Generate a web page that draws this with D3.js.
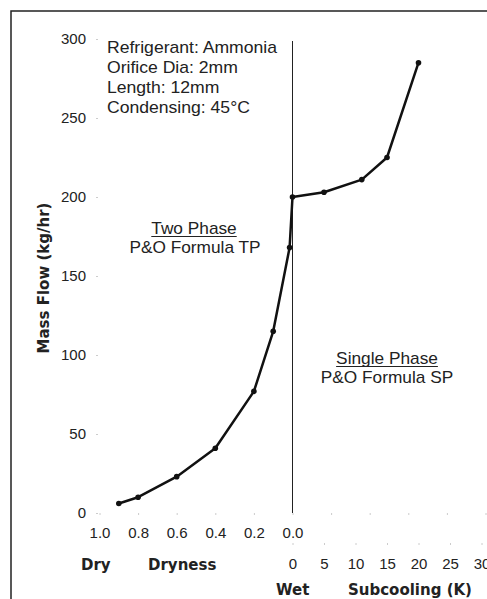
<!DOCTYPE html>
<html>
<head>
<meta charset="utf-8">
<script src="https://cdn.jsdelivr.net/npm/d3@7"></script>
<style>
  body { margin: 0; background: #fff; }
  svg { display: block; }
  .axis text { font-family: "Liberation Sans", Arial, sans-serif; font-size: 15px; fill: #222; }
  .axis line { stroke: #ccc; }
  .axis path { display: none; }
  .note { font-family: "Liberation Sans", Arial, sans-serif; font-size: 16px; fill: #222; }
  .bold { font-family: "DejaVu Sans", Verdana, sans-serif; font-weight: bold; font-size: 15px; fill: #222; }
</style>
</head>
<body>
<script>
//Width and height
var w = 487;
var h = 599;

// Two phase data (dryness vs mass flow, kg/hr)
var dryness = [0.9, 0.8, 0.6, 0.4, 0.2, 0.1, 0.015, 0.0];
var flowTP = [6, 10, 23, 41, 77, 115, 168, 200];

// Single phase data (subcooling K vs mass flow)
var subcooling = [0, 5, 11, 15, 20];
var flowSP = [200, 203, 211, 225, 285];

// Tick labels
var yTicks = [0, 50, 100, 150, 200, 250, 300];
var dryTicks = [1.0, 0.8, 0.6, 0.4, 0.2, 0.0, -0.2, -0.4, -0.6, -0.8, -1.0];
var subTicks = [0, 5, 10, 15, 20, 25, 30];

var notes = ["Refrigerant: Ammonia", "Orifice Dia: 2mm", "Length: 12mm", "Condensing: 45\u00B0C"];

//Create scale functions
var yScale = d3.scaleLinear().domain([0, 300]).range([513, 39]);
var xDry = d3.scaleLinear().domain([1, -1]).range([99.5, 485.5]);
var xSub = d3.scaleLinear().domain([0, 30]).range([292.5, 481.5]);

//Create SVG element
var svg = d3.select("body")
    .append("svg")
    .attr("width", w)
    .attr("height", h);

// frame
svg.append("path")
    .attr("d", "M11," + h + "V11H" + w)
    .attr("fill", "none")
    .attr("stroke", "#222")
    .attr("stroke-width", 1.5);

// axes
svg.append("g").attr("class", "axis")
    .attr("transform", "translate(98,0)")
    .call(d3.axisLeft(yScale).tickValues(yTicks).tickSize(2).tickPadding(10));

svg.append("g").attr("class", "axis")
    .attr("transform", "translate(0,513)")
    .call(d3.axisBottom(xDry).tickValues(dryTicks).tickSize(2).tickPadding(12)
        .tickFormat(function(d) { return d < 0 ? "" : d3.format(".1f")(d); }));

svg.append("g").attr("class", "axis")
    .attr("transform", "translate(0,543)")
    .call(d3.axisBottom(xSub).tickValues(subTicks).tickSize(2).tickPadding(13));

// divider between two phase and single phase
svg.append("line")
    .attr("x1", xDry(0)).attr("x2", xDry(0))
    .attr("y1", 41).attr("y2", yScale(0))
    .attr("stroke", "#222")
    .attr("stroke-width", 1);

// data line
var pts = [];
dryness.forEach(function(d, i) { pts.push([xDry(d), yScale(flowTP[i])]); });
subcooling.forEach(function(d, i) { if (i > 0) pts.push([xSub(d), yScale(flowSP[i])]); });

svg.append("path")
    .datum(pts)
    .attr("fill", "none")
    .attr("stroke", "#111")
    .attr("stroke-width", 2.5)
    .attr("stroke-linejoin", "round")
    .attr("d", d3.line());

svg.selectAll("circle.pt")
    .data(pts)
    .enter()
    .append("circle")
    .attr("class", "pt")
    .attr("cx", function(d) { return d[0]; })
    .attr("cy", function(d) { return d[1]; })
    .attr("r", 2.8)
    .attr("fill", "#111");

// notes
svg.selectAll("text.note")
    .data(notes)
    .enter()
    .append("text")
    .attr("class", "note")
    .attr("transform", function(d, i) { return "translate(107," + (52.5 + i * 20) + ") scale(1.1,1)"; })
    .text(function(d) { return d; });

function label(txt, cx, cy, underline) {
    var t = svg.append("text")
        .attr("class", "note")
        .attr("text-anchor", "middle")
        .attr("transform", "translate(" + cx + "," + cy + ") scale(1.08,1)")
        .text(txt);
    if (underline) {
        var bw = t.node().getBBox().width * 1.08;
        svg.append("line")
            .attr("x1", cx - bw / 2).attr("x2", cx + bw / 2)
            .attr("y1", cy + 2.5).attr("y2", cy + 2.5)
            .attr("stroke", "#222").attr("stroke-width", 1);
    }
}
label("Two Phase", 194, 234, true);
label("P&O Formula TP", 195, 253, false);
label("Single Phase", 387, 364, true);
label("P&O Formula SP", 387, 383, false);

// axis titles
svg.append("text").attr("class", "bold")
    .attr("text-anchor", "middle")
    .attr("transform", "translate(49,278) rotate(-90)")
    .text("Mass Flow (kg/hr)");
svg.append("text").attr("class", "bold").attr("x", 81).attr("y", 570).text("Dry");
svg.append("text").attr("class", "bold").attr("x", 148).attr("y", 570).text("Dryness");
svg.append("text").attr("class", "bold").attr("x", 276).attr("y", 595).text("Wet");
svg.append("text").attr("class", "bold").attr("x", 348).attr("y", 595).text("Subcooling (K)");
</script>
</body>
</html>
